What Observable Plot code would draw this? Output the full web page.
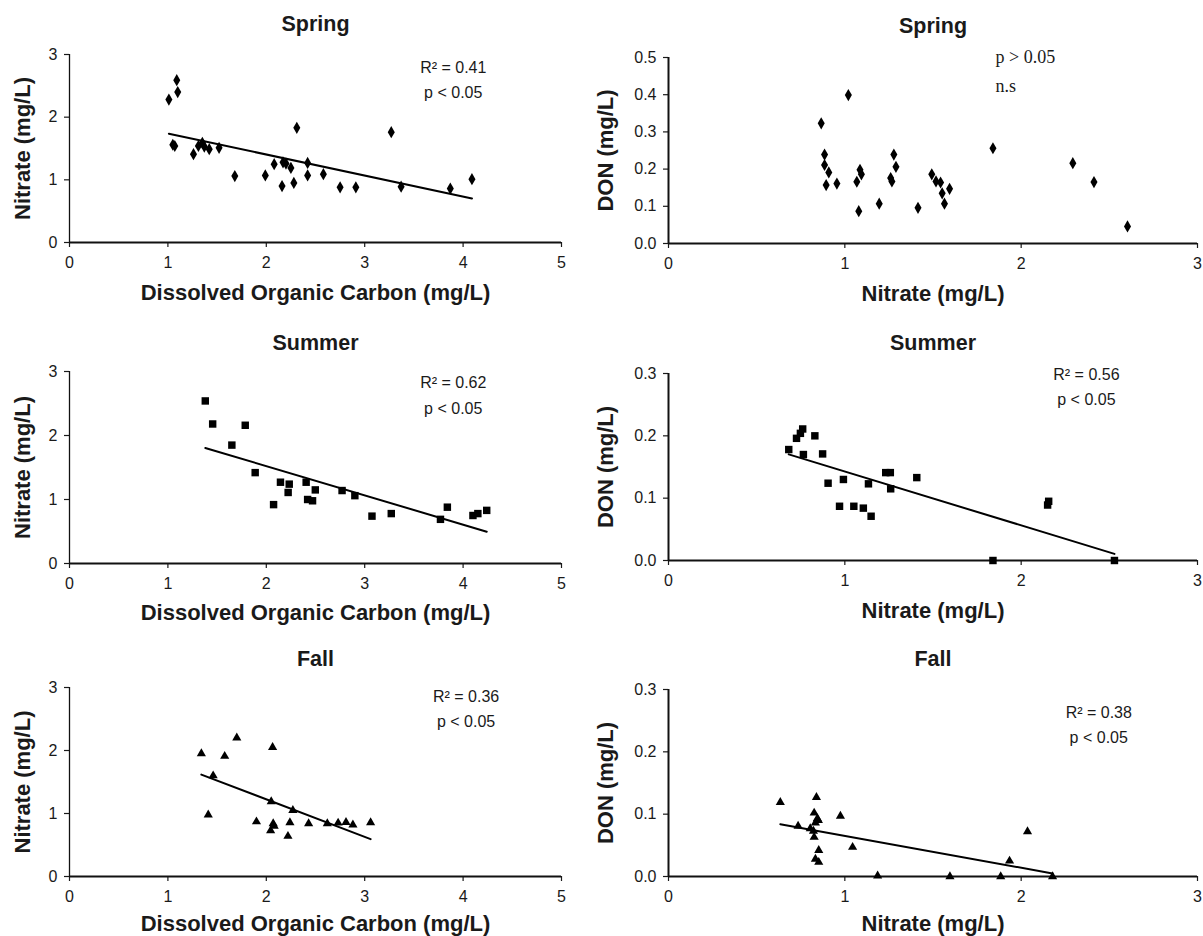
<!DOCTYPE html>
<html>
<head>
<meta charset="utf-8">
<script src="https://cdn.jsdelivr.net/npm/d3@7"></script>
<script src="https://cdn.jsdelivr.net/npm/@observablehq/plot@0.6"></script>
<style>
  html, body { margin: 0; padding: 0; background: #fff; }
  #wrap { position: relative; width: 1203px; height: 936px; overflow: hidden; background: #fff; }
  .panel { position: absolute; }
</style>
</head>
<body>
<div id="wrap"></div>
<script>
// ---------- Data ----------
// Spring: DOC vs Nitrate
const springDOC     = [1.01, 1.09, 1.10, 1.05, 1.07, 1.26, 1.31, 1.35, 1.37, 1.42, 1.52, 1.68, 1.99, 2.08, 2.16, 2.17, 2.20, 2.25, 2.28, 2.31, 2.42, 2.42, 2.58, 2.75, 2.91, 3.27, 3.37, 3.87, 4.09];
const springNitrateA = [2.28, 2.59, 2.40, 1.56, 1.54, 1.41, 1.54, 1.59, 1.53, 1.49, 1.51, 1.06, 1.07, 1.25, 0.90, 1.28, 1.26, 1.19, 0.95, 1.83, 1.27, 1.07, 1.09, 0.88, 0.88, 1.76, 0.89, 0.86, 1.01];
// Spring: Nitrate vs DON
const springNitrateB = [0.866, 0.885, 0.885, 0.894, 0.909, 0.955, 1.02, 1.068, 1.079, 1.086, 1.094, 1.195, 1.26, 1.267, 1.278, 1.29, 1.415, 1.493, 1.517, 1.543, 1.552, 1.565, 1.594, 1.84, 2.293, 2.413, 2.603];
const springDON      = [0.323, 0.239, 0.211, 0.157, 0.191, 0.161, 0.399, 0.166, 0.087, 0.198, 0.186, 0.107, 0.176, 0.167, 0.239, 0.206, 0.096, 0.186, 0.167, 0.164, 0.135, 0.107, 0.147, 0.256, 0.216, 0.165, 0.046];
// Summer: DOC vs Nitrate
const summerDOC      = [1.38, 1.455, 1.65, 1.786, 1.887, 2.074, 2.144, 2.222, 2.233, 2.405, 2.42, 2.47, 2.498, 2.77, 2.90, 3.074, 3.27, 3.77, 3.84, 4.10, 4.15, 4.24];
const summerNitrateA = [2.54, 2.18, 1.85, 2.16, 1.42, 0.92, 1.27, 1.11, 1.24, 1.27, 1.00, 0.98, 1.15, 1.14, 1.06, 0.74, 0.78, 0.69, 0.88, 0.75, 0.78, 0.83];
// Summer: Nitrate vs DON
const summerNitrateB = [0.682, 0.726, 0.748, 0.761, 0.765, 0.83, 0.874, 0.905, 0.97, 0.992, 1.051, 1.105, 1.134, 1.149, 1.232, 1.258, 1.26, 1.408, 1.84, 2.15, 2.156, 2.529];
const summerDON      = [0.178, 0.196, 0.204, 0.211, 0.170, 0.200, 0.171, 0.124, 0.087, 0.130, 0.087, 0.084, 0.123, 0.071, 0.141, 0.141, 0.115, 0.133, 0.0, 0.089, 0.095, 0.0];
// Fall: DOC vs Nitrate
const fallDOC        = [1.34, 1.41, 1.46, 1.577, 1.70, 1.90, 2.044, 2.05, 2.064, 2.07, 2.08, 2.22, 2.24, 2.27, 2.43, 2.62, 2.73, 2.81, 2.88, 3.06];
const fallNitrateA   = [1.95, 0.98, 1.60, 1.91, 2.20, 0.87, 0.73, 1.19, 2.05, 0.84, 0.80, 0.64, 0.855, 1.05, 0.84, 0.84, 0.85, 0.86, 0.82, 0.855];
// Fall: Nitrate vs DON
const fallNitrateB   = [0.634, 0.735, 0.804, 0.822, 0.826, 0.826, 0.833, 0.839, 0.844, 0.85, 0.852, 0.833, 0.852, 0.975, 1.044, 1.186, 1.596, 1.884, 1.934, 2.036, 2.178];
const fallDON        = [0.119, 0.081, 0.077, 0.073, 0.063, 0.102, 0.086, 0.127, 0.093, 0.09, 0.042, 0.028, 0.023, 0.097, 0.047, 0.001, 0.0, 0.0, 0.025, 0.072, 0.0];

// Tick values
const ticksDOC = [0, 1, 2, 3, 4, 5];
const ticksNitrateY = [0, 1, 2, 3];
const ticksNitrateX = [0, 1, 2, 3];
const ticksDONspring = [0, 0.1, 0.2, 0.3, 0.4, 0.5];
const ticksDON = [0, 0.1, 0.2, 0.3];

// Titles / labels
const seasons = ["Spring", "Summer", "Fall"];
const labelDOC = "Dissolved Organic Carbon (mg/L)";
const labelNitrate = "Nitrate (mg/L)";
const labelDON = "DON (mg/L)";

// Statistics annotations (text, x, y in data units)
const annSpringA = {text: ["R\u00b2 = 0.41", "p < 0.05"], x: [3.9, 3.9], y: [2.78, 2.39]};
const annSpringB = {text: ["p > 0.05", "n.s"], x: [1.855, 1.855], y: [0.502, 0.424]};
const annSummerA = {text: ["R\u00b2 = 0.62", "p < 0.05"], x: [3.9, 3.9], y: [2.83, 2.42]};
const annSummerB = {text: ["R\u00b2 = 0.56", "p < 0.05"], x: [2.37, 2.37], y: [0.298, 0.257]};
const annFallA   = {text: ["R\u00b2 = 0.36", "p < 0.05"], x: [4.03, 4.03], y: [2.85, 2.45]};
const annFallB   = {text: ["R\u00b2 = 0.38", "p < 0.05"], x: [2.44, 2.44], y: [0.263, 0.223]};

// ---------- Drawing ----------
const SANS = "'Liberation Sans', Arial, Helvetica, sans-serif";
const SERIF = "'Liberation Serif', 'Times New Roman', serif";

function toRows(xs, ys) { return xs.map((x, i) => ({x, y: ys[i]})); }
function annRows(a) { return a.text.map((t, i) => ({t, x: a.x[i], y: a.y[i]})); }

function panel(cfg) {
  const pts = toRows(cfg.xs, cfg.ys);
  const ann = annRows(cfg.ann);
  const marks = [
    Plot.axisX({ticks: cfg.xticks, tickSize: 5, tickPadding: 9, tickFormat: d3.format("d"), label: null, fontSize: 16, strokeWidth: 1.2}),
    Plot.axisY({ticks: cfg.yticks, tickSize: 5, tickPadding: 7, tickFormat: cfg.yfmt, label: null, fontSize: 16, strokeWidth: 1.2}),
    Plot.ruleX([0], {stroke: "#111", strokeWidth: cfg.yw}),
    Plot.ruleY([0], {stroke: "#111", strokeWidth: 1.8}),
    Plot.dot(pts, {x: "x", y: "y", symbol: cfg.symbol, r: cfg.r, fill: "#000", stroke: "none"}),
    Plot.text([cfg.title], {frameAnchor: "top", textAnchor: "middle", lineAnchor: "middle", dy: -cfg.titleOff, fontWeight: "bold", fontSize: 21.5, fontFamily: SANS}),
    Plot.text([cfg.xlabel], {frameAnchor: "bottom", textAnchor: "middle", lineAnchor: "middle", dy: cfg.xlabOff, fontWeight: "bold", fontSize: 22, fontFamily: SANS}),
    Plot.text([cfg.ylabel], {frameAnchor: "left", textAnchor: "middle", lineAnchor: "middle", dx: -cfg.ylabOff, rotate: -90, fontWeight: "bold", fontSize: 22, fontFamily: SANS}),
    Plot.text(ann, {x: "x", y: "y", text: "t", lineAnchor: "middle", fontSize: cfg.serif ? 18 : 16, fontFamily: cfg.serif ? SERIF : SANS, textAnchor: cfg.serif ? "start" : "middle"})
  ];
  if (cfg.fit) marks.splice(5, 0, Plot.linearRegressionY(pts, {x: "x", y: "y", stroke: "#000", strokeWidth: 2, ci: 0}));
  const svg = Plot.plot({
    width: cfg.width, height: cfg.height,
    marginLeft: cfg.ml, marginRight: cfg.mr, marginTop: cfg.mt, marginBottom: cfg.mb,
    x: {domain: [0, cfg.xmax]},
    y: {domain: [0, cfg.ymax]},
    style: {fontFamily: SANS, fontSize: "16px", color: "#1a1a1a", background: "transparent", overflow: "visible"},
    marks
  });
  const div = document.createElement("div");
  div.className = "panel";
  div.style.left = cfg.left + "px";
  div.style.top = cfg.top + "px";
  div.appendChild(svg);
  document.getElementById("wrap").appendChild(div);
}

const left = {left: 0, width: 600, ml: 69, mr: 39, xmax: 5, xticks: ticksDOC, xlabel: labelDOC, ylabel: labelNitrate, ymax: 3, yticks: ticksNitrateY, yfmt: d3.format("d"), ylabOff: 47, yw: 1.3};
const right = {left: 600, width: 603, ml: 68, mr: 6, xmax: 3, xticks: ticksNitrateX, xlabel: labelNitrate, ylabel: labelDON, yfmt: d3.format(".1f"), ylabOff: 63, yw: 2};

panel({...left, top: 0, height: 310, mt: 54, mb: 68, title: seasons[0], titleOff: 30.5, xlabOff: 50.5,
  xs: springDOC, ys: springNitrateA, symbol: "diamond", r: 3.7, fit: true, ann: annSpringA});
panel({...right, top: 0, height: 310, mt: 57, mb: 67, title: seasons[0], titleOff: 31, xlabOff: 50,
  ymax: 0.5, yticks: ticksDONspring, xs: springNitrateB, ys: springDON, symbol: "diamond", r: 3.7, fit: false, ann: annSpringB, serif: true});

panel({...left, top: 310, height: 310, mt: 61, mb: 57, title: seasons[1], titleOff: 28, xlabOff: 49,
  xs: summerDOC, ys: summerNitrateA, symbol: "square", r: 4.2, fit: true, ann: annSummerA});
panel({...right, top: 310, height: 310, mt: 63, mb: 60, title: seasons[1], titleOff: 30, xlabOff: 50,
  ymax: 0.3, yticks: ticksDON, xs: summerNitrateB, ys: summerDON, symbol: "square", r: 4.2, fit: true, ann: annSummerB});

panel({...left, top: 620, height: 316, mt: 67, mb: 60, title: seasons[2], titleOff: 28, xlabOff: 47,
  xs: fallDOC, ys: fallNitrateA, symbol: "triangle", r: 3.4, fit: true, ann: annFallA});
panel({...right, top: 620, height: 316, mt: 69, mb: 60, title: seasons[2], titleOff: 30, xlabOff: 47,
  ymax: 0.3, yticks: ticksDON, xs: fallNitrateB, ys: fallDON, symbol: "triangle", r: 3.4, fit: true, ann: annFallB});
</script>
</body>
</html>
